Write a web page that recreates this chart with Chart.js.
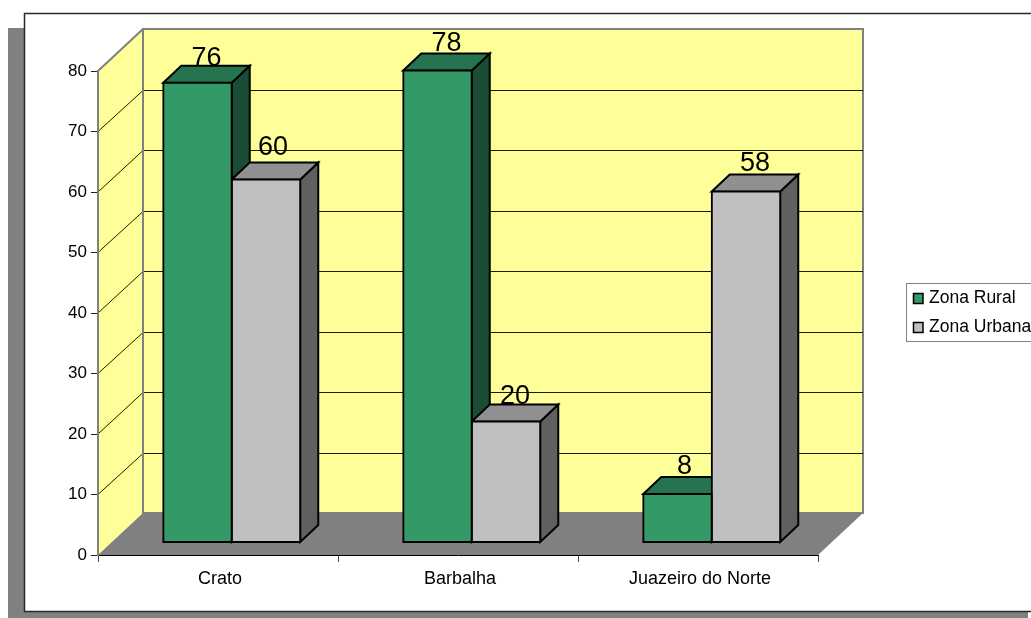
<!DOCTYPE html>
<html>
<head>
<meta charset="utf-8">
<style>
  html, body { margin: 0; padding: 0; background: #fff; overflow: hidden; }
  canvas { display: block; }
</style>
<script src="https://cdn.jsdelivr.net/npm/chart.js@4"></script>
</head>
<body>
<canvas id="chart" width="1031" height="618"></canvas>
<script>
const categories = ['Crato', 'Barbalha', 'Juazeiro do Norte'];
const ruralValues = [76, 78, 8];
const urbanValues = [60, 20, 58];
const seriesNames = ['Zona Rural', 'Zona Urbana'];

const FONT = '"Liberation Sans", Arial, sans-serif';
const WALL_DX = 45, WALL_DY = 42;      // depth of the plot box
const BAR_DX = 18, BAR_DY = 17;        // depth of each column
const SHIFT_X = 13.75, SHIFT_Y = -12.5; // columns stand in the middle of the floor

// Small per-label caption adjustments [dx, dy], by series then category.
const captionNudge = [
  [[0, 2], [0, -1], [-2, -2]],
  [[-2, -6], [0, 1], [0, -2]]
];

const palette = [
  { front: '#339966', top: '#267350', side: '#1a4d33' },
  { front: '#c0c0c0', top: '#909090', side: '#606060' }
];

function poly(ctx, pts, fill, stroke, width) {
  ctx.beginPath();
  pts.forEach((p, i) => i ? ctx.lineTo(p[0], p[1]) : ctx.moveTo(p[0], p[1]));
  ctx.closePath();
  if (fill) { ctx.fillStyle = fill; ctx.fill(); }
  if (stroke) { ctx.strokeStyle = stroke; ctx.lineWidth = width; ctx.lineJoin = 'miter'; ctx.stroke(); }
}

// Page frame with its drop shadow, then the walls, floor and gridlines of the box.
const boxPlugin = {
  id: 'box3d',
  beforeDraw(chart) {
    const { ctx, chartArea: a, scales: { y } } = chart;
    ctx.save();
    ctx.fillStyle = '#808080';
    ctx.fillRect(8, 28, 1020, 590);
    ctx.fillStyle = '#ffffff';
    ctx.fillRect(24, 13, 1007, 599);
    ctx.strokeStyle = '#2a2a2a';
    ctx.lineWidth = 1.5;
    ctx.strokeRect(24.5, 13.5, 1020, 598);

    const L = a.left, R = a.right, T = a.top, B = a.bottom;
    poly(ctx, [[L, T], [L + WALL_DX, T - WALL_DY], [L + WALL_DX, B - WALL_DY], [L, B]], '#ffff99');
    poly(ctx, [[L + WALL_DX, T - WALL_DY], [R + WALL_DX, T - WALL_DY], [R + WALL_DX, B - WALL_DY], [L + WALL_DX, B - WALL_DY]], '#ffff99', '#808080', 2);
    poly(ctx, [[L, B], [R, B], [R + WALL_DX, B - WALL_DY], [L + WALL_DX, B - WALL_DY]], '#808080');

    ctx.strokeStyle = '#1c1c00';
    ctx.lineWidth = 1;
    y.ticks.forEach(t => {
      if (t.value === 0 || t.value === y.max) return;
      const py = y.getPixelForValue(t.value);
      const back = Math.round(py - WALL_DY) + 0.5;
      ctx.beginPath();
      ctx.moveTo(L, py);
      ctx.lineTo(L + WALL_DX, back);
      ctx.lineTo(R + WALL_DX, back);
      ctx.stroke();
    });
    ctx.strokeStyle = '#808080';
    ctx.lineWidth = 2;
    ctx.beginPath();
    ctx.moveTo(L, T);
    ctx.lineTo(L + WALL_DX, T - WALL_DY);
    ctx.moveTo(L + WALL_DX, T - WALL_DY);
    ctx.lineTo(L + WALL_DX, B - WALL_DY);
    ctx.stroke();
    ctx.restore();
  },
  // Top and side faces go first so each column's front can cover its neighbour's side.
  beforeDatasetsDraw(chart) {
    const { ctx } = chart;
    ctx.save();
    chart.data.datasets.forEach((ds, di) => {
      const colors = palette[di];
      chart.getDatasetMeta(di).data.forEach(bar => {
        const l = bar.x - bar.width / 2 + SHIFT_X;
        const r = bar.x + bar.width / 2 + SHIFT_X;
        const t = bar.y + SHIFT_Y;
        const b = bar.base + SHIFT_Y;
        poly(ctx, [[r, t], [r + BAR_DX, t - BAR_DY], [r + BAR_DX, b - BAR_DY], [r, b]], colors.side, '#000', 2);
        poly(ctx, [[l, t], [l + BAR_DX, t - BAR_DY], [r + BAR_DX, t - BAR_DY], [r, t]], colors.top, '#000', 2);
      });
    });
    ctx.restore();
    ctx.save();
    ctx.translate(SHIFT_X, SHIFT_Y);
  },
  afterDatasetsDraw(chart) {
    const { ctx } = chart;
    ctx.restore();

    // Value captions above the back edge of each column.
    ctx.save();
    ctx.font = '27px ' + FONT;
    ctx.fillStyle = '#000';
    ctx.textAlign = 'center';
    ctx.textBaseline = 'middle';
    chart.data.datasets.forEach((ds, di) => {
      chart.getDatasetMeta(di).data.forEach((bar, i) => {
        const [nx, ny] = captionNudge[di][i];
        ctx.fillText(String(ds.data[i]), bar.x + SHIFT_X + BAR_DX / 2 + nx, bar.y + SHIFT_Y - BAR_DY - 9 + ny);
      });
    });
    ctx.restore();

    // Legend panel on the right, running off the edge of the page.
    ctx.save();
    ctx.fillStyle = '#fff';
    ctx.fillRect(906, 283, 140, 59);
    ctx.strokeStyle = '#808080';
    ctx.lineWidth = 1;
    ctx.strokeRect(906.5, 283.5, 140, 58);
    ctx.font = '17.5px ' + FONT;
    ctx.textAlign = 'left';
    ctx.textBaseline = 'middle';
    chart.data.datasets.forEach((ds, di) => {
      const top = 293 + di * 29;
      ctx.fillStyle = palette[di].front;
      ctx.fillRect(913, top, 10, 11);
      ctx.strokeStyle = '#000';
      ctx.lineWidth = 1.5;
      ctx.strokeRect(913.5, top + 0.5, 9.5, 10);
      ctx.fillStyle = '#000';
      ctx.fillText(ds.label, 929, top + 5.5);
    });
    ctx.restore();
  }
};

const barStyle = { borderColor: '#000', borderWidth: 2, inflateAmount: 1, borderSkipped: false, clip: false };

new Chart(document.getElementById('chart'), {
  type: 'bar',
  data: {
    labels: categories,
    datasets: [
      { label: seriesNames[0], data: ruralValues, backgroundColor: palette[0].front, ...barStyle },
      { label: seriesNames[1], data: urbanValues, backgroundColor: palette[1].front, ...barStyle }
    ]
  },
  options: {
    responsive: false,
    animation: false,
    events: [],
    layout: { padding: { top: 71, left: 0, right: 213, bottom: 0 } },
    datasets: { bar: { categoryPercentage: 137 / 240, barPercentage: 1 } },
    plugins: { legend: { display: false }, tooltip: { enabled: false } },
    scales: {
      x: {
        afterFit(scale) { scale.height = 63; },
        grid: { drawOnChartArea: false, drawTicks: true, tickLength: 7, tickColor: '#404040', offset: true },
        border: { color: '#000', width: 1 },
        ticks: { color: '#000', font: { family: FONT, size: 18 }, padding: 6, maxRotation: 0, labelOffset: 2 }
      },
      y: {
        min: 0,
        max: 80,
        afterFit(scale) { scale.width = 98; },
        grid: { drawOnChartArea: false, drawTicks: true, tickLength: 7, tickColor: '#202020' },
        border: { color: '#808080', width: 2 },
        ticks: { color: '#000', stepSize: 10, font: { family: FONT, size: 17 }, padding: 4 }
      }
    }
  },
  plugins: [boxPlugin]
});
</script>
</body>
</html>
